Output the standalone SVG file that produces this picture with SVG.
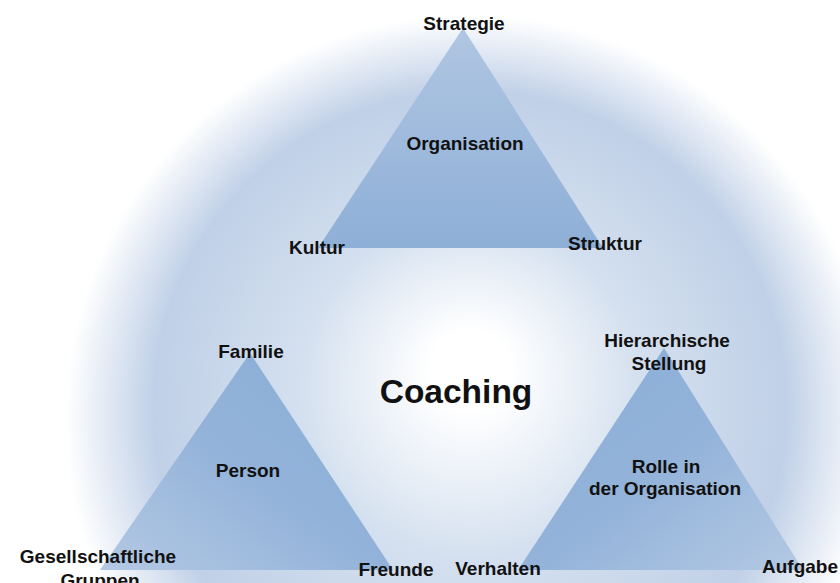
<svg xmlns="http://www.w3.org/2000/svg" width="840" height="583" viewBox="0 0 840 583">
  <style>
    .lbl { font-family: "Liberation Sans", Arial, sans-serif; font-weight: bold; font-size: 19px; fill: #111; text-anchor: middle; }
    .title { font-family: "Liberation Sans", Arial, sans-serif; font-weight: bold; font-size: 33.5px; fill: #111; text-anchor: middle; }
  </style>
  <defs>
    <radialGradient id="bg" gradientUnits="userSpaceOnUse" cx="470" cy="420" r="405" fx="470" fy="365">
      <stop offset="0" stop-color="#ffffff"/>
      <stop offset="0.1" stop-color="#ffffff"/>
      <stop offset="0.42" stop-color="#d4e0ef"/>
      <stop offset="0.78" stop-color="#c0d0e7"/>
      <stop offset="1" stop-color="#ffffff"/>
    </radialGradient>
    <linearGradient id="gTop" x1="0" y1="0" x2="0" y2="1">
      <stop offset="0" stop-color="#b0c6e2"/>
      <stop offset="1" stop-color="#8eafd7"/>
    </linearGradient>
    <linearGradient id="gLeft" x1="1" y1="0" x2="0" y2="1">
      <stop offset="0" stop-color="#8aaed6"/>
      <stop offset="0.5" stop-color="#92b2d9"/>
      <stop offset="1" stop-color="#b4c9e4"/>
    </linearGradient>
    <linearGradient id="gRight" x1="0" y1="0" x2="1" y2="1">
      <stop offset="0" stop-color="#8aaed6"/>
      <stop offset="0.5" stop-color="#92b2d9"/>
      <stop offset="1" stop-color="#b4c9e4"/>
    </linearGradient>
  </defs>
  <rect width="840" height="583" fill="#ffffff"/>
  <circle cx="470" cy="420" r="405" fill="url(#bg)"/>

  <g id="organisation">
    <polygon points="463,28 318,248 603,248" fill="url(#gTop)"/>
    <text class="lbl" x="464" y="30">Strategie</text>
    <text class="lbl" x="465" y="150">Organisation</text>
    <text class="lbl" x="317" y="254">Kultur</text>
    <text class="lbl" x="605" y="250">Struktur</text>
  </g>

  <g id="person">
    <polygon points="250,353 100,570 393,570" fill="url(#gLeft)"/>
    <text class="lbl" x="251" y="358">Familie</text>
    <text class="lbl" x="248" y="477">Person</text>
    <text class="lbl" x="98" y="563">Gesellschaftliche</text>
    <text class="lbl" x="100" y="587">Gruppen</text>
    <text class="lbl" x="396" y="576">Freunde</text>
  </g>

  <g id="rolle">
    <polygon points="664,348 518,570 803,570" fill="url(#gRight)"/>
    <text class="lbl" x="667" y="347">Hierarchische</text>
    <text class="lbl" x="669" y="370">Stellung</text>
    <text class="lbl" x="666" y="473">Rolle in</text>
    <text class="lbl" x="665" y="495">der Organisation</text>
    <text class="lbl" x="498" y="575">Verhalten</text>
    <text class="lbl" x="800" y="573">Aufgabe</text>
  </g>

  <g id="coaching">
    <text class="title" x="456" y="403">Coaching</text>
  </g>

  <g id="connectors"></g>
</svg>
